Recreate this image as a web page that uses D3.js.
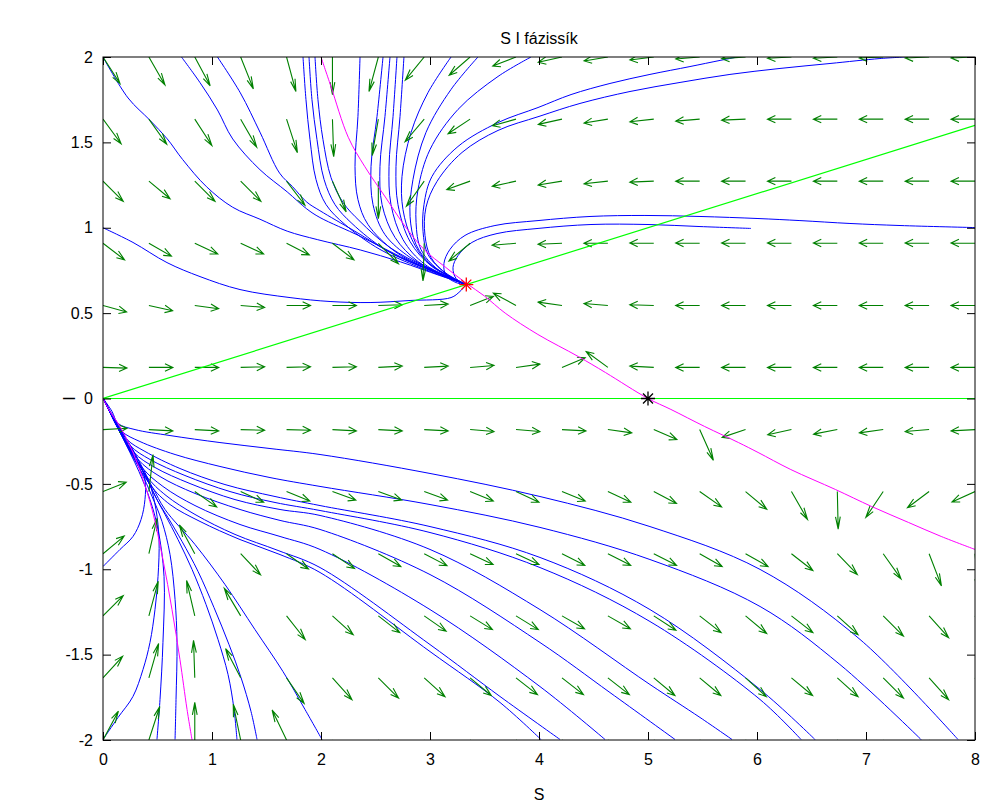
<!DOCTYPE html>
<html>
<head>
<meta charset="utf-8">
<script src="https://cdn.jsdelivr.net/npm/d3@7/dist/d3.min.js"></script>
<style>
  body { margin: 0; background: #fff; }
  text { font-family: "Liberation Sans", Arial, sans-serif; }
</style>
</head>
<body>
<div id="chart"></div>
<script>
// ---- data ----
const xTicks = [0, 1, 2, 3, 4, 5, 6, 7, 8];
const yTicks = [-2, -1.5, -1, -0.5, 0, 0.5, 1, 1.5, 2];

// quiver grid (S columns, I rows) and arrow directions in data space, degrees
const gridS = [0, 0.421, 0.842, 1.263, 1.684, 2.105, 2.526, 2.947, 3.368, 3.789,
               4.211, 4.632, 5.053, 5.474, 5.895, 6.316, 6.737, 7.158, 7.579, 8];
const gridI = [2, 1.636, 1.273, 0.909, 0.545, 0.182, -0.182, -0.545, -0.909, -1.273, -1.636, -2];
const arrowAngles = [
  [-45, -48, -50, -58, -67, -90, -113, -142, -151, -166, -172, -174, -175.5, -177, -177.5, -178, -178, -178.5, -178.5, -178.5],
  [-41, -42, -44.5, -48, -63, -87, -105, -143, -157, -170, -172, -174, -176, -177, -178.5, 180, 180, 180, 180, 180],
  [-32.5, -28, -32.5, -32.5, -40, -55, -90, -138, -167, -172, -174, -176, -178.5, 180, 180, 180, 180, 180, 180, 180],
  [-26, -20, -16.5, -16.5, -18, -26, -33, -93, -152, -177, -178.5, 180, 179.5, 179.5, 179.5, 179.5, 179.5, 179.5, 179.5, 179.5],
  [-10, -8, -5, -3, 0, 0, 1, 2, 14, 161, 175, 177, 179, 180, 180, 180, 180, 180, 180, 180],
  [-1, 0, 0, 1, 1, 1, 2, 2, 3, 5, 15, 155, 178, 180, 180, 180, 180, 180, 180, 180],
  [2, -2, -2, -1, -1, -2, -2, -2, -3, -3, -2, -5, -15.5, -55, -168, -172, -173, -175, -177, -178],
  [14.5, 80, -24, -16.5, -14.5, -13, -13, -13, -14.5, -16.5, -14.5, -16.5, -18.5, -24, -28, -48, -88, -136.5, -154.5, -164],
  [28, 70, 130, -34, -24, -23, -20, -18.5, -16.5, -16.5, -18, -18, -18, -20, -20, -26.5, -33.5, -42, -59, -82],
  [32.5, 67, 110, 133, -39, -30, -26.5, -24, -21.5, -21.5, -20, -20, -22.5, -26.5, -28, -26.5, -30, -32.5, -35.5, -39],
  [35, 66, 93, 129, -43, -35.5, -32.5, -30, -28, -26.5, -26.5, -26.5, -28, -28, -30, -28, -30, -32.5, -35.5, -37],
  [50, 63, 90, 108, 127, -45, -40, -35, -32, -30, -30, -30, -30, -30, -32, -32, -33, -35, -38, -40]
];
const arrowLength = 0.22;

// equilibria
const eqStable = [3.333, 0.667];
const eqSaddle = [5, 0];

// nullclines
const nullIZero = [[0, 0], [8, 0]];
const nullILine = [[0, 0], [8, 1.6]];
const nullSUpper = [[2.0, 2.0], [2.09, 1.83], [2.25, 1.53], [2.40, 1.36], [2.59, 1.18], [2.77, 1.01],
  [2.95, 0.87], [3.14, 0.77], [3.333, 0.675], [3.50, 0.60], [3.69, 0.50], [3.99, 0.375], [4.36, 0.246],
  [4.61, 0.152], [5.0, 0], [5.21, -0.064], [5.52, -0.164], [5.83, -0.258], [6.01, -0.316], [6.31, -0.416],
  [6.72, -0.533], [7.05, -0.632], [7.39, -0.726], [7.69, -0.808], [8.0, -0.884]];
const nullSLower = [[0, 0], [0.064, -0.076], [0.156, -0.164], [0.275, -0.316], [0.367, -0.474], [0.45, -0.65],
  [0.55, -0.943], [0.633, -1.236], [0.706, -1.529], [0.771, -1.821], [0.817, -2.0]];

// trajectories going into the upper equilibrium
const T1 = [[0,2],[0.23,1.76],[0.43,1.63],[0.59,1.52],[0.73,1.40],[0.95,1.24],[1.19,1.12],[1.44,1.05],[1.69,0.98],[1.97,0.93],[2.36,0.87],[2.73,0.80],[3.09,0.72],[3.333,0.667]];
const T2 = [[0.72,2],[0.89,1.85],[1.05,1.69],[1.19,1.52],[1.44,1.34],[1.69,1.21],[1.87,1.11],[1.99,1.06],[2.36,0.95],[2.73,0.83],[3.09,0.73],[3.333,0.667]];
const T3 = [[1.05,2],[1.26,1.79],[1.44,1.56],[1.62,1.32],[1.74,1.24],[1.87,1.15],[1.99,1.10],[2.31,0.98],[2.68,0.84],[3.05,0.74],[3.333,0.667]];
const T4 = [[1.835,2],[1.862,1.751],[1.899,1.517],[1.954,1.283],[2.046,1.136],[2.22,1.019],[2.541,0.873],[2.908,0.767],[3.333,0.667]];
const T5 = [[1.89,2],[1.917,1.751],[1.963,1.517],[2.028,1.283],[2.128,1.136],[2.284,1.025],[2.587,0.873],[2.936,0.767],[3.333,0.667]];
const T6 = [[1.945,2],[1.972,1.751],[2.018,1.517],[2.092,1.294],[2.202,1.148],[2.358,1.037],[2.633,0.884],[2.972,0.767],[3.333,0.667]];
const T7 = [[2.358,2],[2.339,1.652],[2.312,1.359],[2.339,1.165],[2.431,1.019],[2.679,0.861],[2.954,0.767],[3.333,0.667]];
const T8 = [[2.569,2],[2.514,1.652],[2.459,1.359],[2.477,1.136],[2.587,0.96],[2.817,0.826],[3.092,0.732],[3.333,0.667]];
const T9 = [[2.633,2],[2.587,1.652],[2.541,1.359],[2.56,1.136],[2.679,0.943],[2.89,0.802],[3.138,0.72],[3.333,0.667]];
const T10 = [[2.697,2],[2.661,1.652],[2.624,1.359],[2.642,1.136],[2.752,0.931],[2.954,0.785],[3.333,0.667]];
const T11 = [[2.761,2],[2.725,1.652],[2.688,1.359],[2.706,1.136],[2.817,0.919],[3.018,0.773],[3.333,0.667]];
const T12 = [[3.193,2],[2.982,1.792],[2.826,1.558],[2.743,1.30],[2.752,1.107],[2.835,0.931],[2.982,0.796],[3.333,0.667]];
const T13 = [[3.44,2],[3.193,1.81],[2.963,1.558],[2.844,1.283],[2.817,1.066],[2.872,0.902],[3.018,0.779],[3.333,0.667]];
const T14 = [[3.927,2],[3.624,1.886],[3.257,1.693],[3.0,1.458],[2.89,1.224],[2.872,1.031],[2.917,0.873],[3.073,0.755],[3.333,0.667]];
const T15 = [[5.844,2.003],[5.661,1.98],[5.385,1.944],[5.018,1.898],[4.651,1.845],[4.294,1.78],[3.991,1.704],[3.624,1.616],[3.257,1.476],[3.018,1.30],[2.945,1.136],[2.936,0.978],[2.982,0.843],[3.138,0.738],[3.333,0.667]];
const T16 = [[7.358,2.0],[7.128,1.991],[6.67,1.962],[6.211,1.933],[5.752,1.898],[5.294,1.851],[4.835,1.798],[4.376,1.728],[4.0,1.652],[3.624,1.57],[3.294,1.441],[3.064,1.271],[2.963,1.119],[2.954,0.955],[3.009,0.826],[3.156,0.726],[3.333,0.667]];
const T17 = [[8,1.001],[7.312,1.013],[6.853,1.025],[6.394,1.042],[6.009,1.054],[5.477,1.066],[4.972,1.072],[4.468,1.066],[3.991,1.042],[3.596,1.013],[3.321,0.955],[3.183,0.873],[3.128,0.791],[3.147,0.72],[3.239,0.679],[3.333,0.667]];
const T18 = [[5.945,0.996],[5.477,1.007],[5.0,1.019],[4.477,1.019],[3.991,0.996],[3.615,0.966],[3.385,0.914],[3.257,0.837],[3.211,0.767],[3.239,0.703],[3.333,0.667]];
const T19 = [[0,1.0],[0.275,0.914],[0.587,0.796],[0.89,0.714],[1.257,0.638],[1.716,0.591],[2.083,0.568],[2.45,0.562],[2.817,0.574],[3.193,0.591],[3.275,0.627],[3.333,0.667]];

// trajectories leaving the origin towards the lower right
const F1 = [[0.009,-0.006],[0.083,-0.076],[0.138,-0.146],[0.294,-0.182],[0.615,-0.217],[1.073,-0.258],[1.532,-0.293],[1.991,-0.328],[3.0,-0.439],[4.009,-0.574],[5.018,-0.75],[6.028,-1.001],[6.945,-1.411],[7.844,-1.997]];
const F2 = [[0.009,-0.006],[0.083,-0.1],[0.174,-0.193],[0.339,-0.252],[0.661,-0.328],[1.073,-0.398],[1.532,-0.463],[1.991,-0.515],[3.0,-0.621],[4.009,-0.755],[5.018,-0.943],[6.028,-1.218],[6.761,-1.558],[7.505,-1.997]];
const F3 = [[0.009,-0.006],[0.092,-0.111],[0.22,-0.24],[0.385,-0.31],[0.706,-0.41],[1.119,-0.504],[1.578,-0.574],[1.991,-0.627],[3.0,-0.75],[4.009,-0.931],[5.018,-1.236],[6.028,-1.704],[6.532,-1.997]];
const F4 = [[0.009,-0.006],[0.101,-0.123],[0.248,-0.275],[0.431,-0.357],[0.752,-0.451],[1.165,-0.545],[1.578,-0.609],[1.991,-0.656],[3.0,-0.785],[4.009,-0.99],[5.018,-1.306],[6.028,-1.763],[6.404,-1.997]];
const F5 = [[0.009,-0.006],[0.11,-0.135],[0.284,-0.316],[0.477,-0.404],[0.798,-0.498],[1.211,-0.592],[1.624,-0.65],[1.991,-0.685],[3.0,-0.884],[4.009,-1.236],[5.018,-1.675],[5.477,-1.868],[5.771,-1.997]];
const F6 = [[0.009,-0.006],[0.119,-0.146],[0.321,-0.357],[0.523,-0.457],[0.844,-0.556],[1.257,-0.65],[1.624,-0.714],[1.991,-0.767],[3.0,-1.031],[4.009,-1.429],[4.651,-1.722],[5.248,-1.997]];
const F7 = [[0.009,-0.006],[0.119,-0.152],[0.358,-0.404],[0.55,-0.515],[0.844,-0.627],[1.257,-0.738],[1.624,-0.808],[1.991,-0.884],[3.0,-1.236],[4.009,-1.687],[4.606,-1.997]];
const F8 = [[0.009,-0.006],[0.128,-0.158],[0.394,-0.451],[0.578,-0.568],[0.844,-0.679],[1.211,-0.796],[1.606,-0.89],[1.991,-0.99],[3.0,-1.441],[3.642,-1.745],[4.193,-1.997]];
const F9 = [[0.009,-0.006],[0.128,-0.164],[0.431,-0.504],[0.615,-0.621],[0.89,-0.72],[1.257,-0.826],[1.624,-0.914],[1.991,-1.019],[3.0,-1.482],[3.642,-1.78],[4.018,-1.997]];
const F10 = [[0.009,-0.006],[0.138,-0.17],[0.45,-0.515],[0.569,-0.65],[0.844,-0.855],[1.119,-1.089],[1.394,-1.353],[1.651,-1.599],[1.853,-1.821],[2.009,-1.997]];
// trajectories near the lower magenta branch
const B1 = [[0.009,-0.006],[0.138,-0.176],[0.358,-0.416],[0.495,-0.592],[0.569,-0.679],[0.688,-0.826],[0.817,-1.001],[0.945,-1.206],[1.055,-1.411],[1.147,-1.616],[1.202,-1.821],[1.229,-1.997]];
const B2 = [[0.009,-0.006],[0.138,-0.176],[0.367,-0.428],[0.505,-0.603],[0.596,-0.697],[0.725,-0.837],[0.872,-1.013],[1.018,-1.224],[1.156,-1.441],[1.266,-1.634],[1.358,-1.833],[1.413,-1.997]];
const B3 = [[0.009,-0.012],[0.156,-0.193],[0.339,-0.416],[0.45,-0.574],[0.541,-0.72],[0.615,-0.914],[0.661,-1.177],[0.679,-1.429],[0.67,-1.763],[0.661,-1.997]];
const B4 = [[0.009,-0.012],[0.156,-0.199],[0.33,-0.428],[0.431,-0.592],[0.505,-0.767],[0.56,-1.042],[0.55,-1.429],[0.523,-1.763],[0.495,-1.997]];
const B5 = [[0,-1.997],[0.138,-1.868],[0.275,-1.745],[0.367,-1.587],[0.431,-1.429],[0.477,-1.236],[0.505,-1.042],[0.514,-0.826],[0.486,-0.65],[0.422,-0.486],[0.312,-0.346],[0.165,-0.182],[0.009,-0.012]];
const B6 = [[0,-0.984],[0.156,-0.884],[0.275,-0.808],[0.349,-0.709],[0.385,-0.592],[0.385,-0.474],[0.33,-0.369],[0.229,-0.252],[0.101,-0.123],[0.009,-0.012]];

const trajectories = [T1, T2, T3, T4, T5, T6, T7, T8, T9, T10, T11, T12, T13, T14, T15, T16, T17, T18, T19,
  F1, F2, F3, F4, F5, F6, F7, F8, F9, F10, B1, B2, B3, B4, B5, B6];

// ---- drawing ----
const W = 982, H = 805;
const plot = { left: 103, right: 975, top: 57, bottom: 740 };

const svg = d3.select("#chart").append("svg")
  .attr("width", W).attr("height", H)
  .style("background", "#fff");

const x = d3.scaleLinear().domain([0, 8]).range([plot.left, plot.right]);
const y = d3.scaleLinear().domain([-2, 2]).range([plot.bottom, plot.top]);

svg.append("clipPath").attr("id", "plotClip")
  .append("rect")
  .attr("x", x(0)).attr("y", y(2))
  .attr("width", x(8) - x(0)).attr("height", y(-2) - y(2));

const inner = svg.append("g").attr("clip-path", "url(#plotClip)");

const line = d3.line()
  .x(d => x(d[0]))
  .y(d => y(d[1]))
  .curve(d3.curveCatmullRom.alpha(0.5));

// trajectories
inner.append("g")
  .selectAll("path")
  .data(trajectories)
  .join("path")
  .attr("d", line)
  .attr("fill", "none")
  .attr("stroke", "#0000ff")
  .attr("stroke-width", 1);

// quiver arrows (matlab style heads, built in data space)
const alpha = 0.33, beta = 0.3;
const arrows = [];
gridI.forEach((iv, r) => {
  gridS.forEach((sv, c) => {
    const a = arrowAngles[r][c] * Math.PI / 180;
    const u = arrowLength * Math.cos(a), v = arrowLength * Math.sin(a);
    arrows.push({ s: sv, i: iv, u, v });
  });
});

inner.append("g")
  .selectAll("path")
  .data(arrows)
  .join("path")
  .attr("d", d => {
    const tx = d.s + d.u, ty = d.i + d.v;
    const h1x = tx - alpha * (d.u + beta * d.v), h1y = ty - alpha * (d.v - beta * d.u);
    const h2x = tx - alpha * (d.u - beta * d.v), h2y = ty - alpha * (d.v + beta * d.u);
    return `M${x(d.s)},${y(d.i)}L${x(tx)},${y(ty)}` +
      `M${x(h1x)},${y(h1y)}L${x(tx)},${y(ty)}L${x(h2x)},${y(h2y)}`;
  })
  .attr("fill", "none")
  .attr("stroke", "#008000")
  .attr("stroke-width", 1.1);

// nullclines
const straight = d3.line().x(d => x(d[0])).y(d => y(d[1]));
[nullIZero, nullILine].forEach(pts => {
  inner.append("path").attr("d", straight(pts))
    .attr("fill", "none").attr("stroke", "#00ff00").attr("stroke-width", 1.2);
});
[nullSUpper, nullSLower].forEach(pts => {
  inner.append("path").attr("d", line(pts))
    .attr("fill", "none").attr("stroke", "#ff00ff").attr("stroke-width", 1);
});

// equilibrium stars
function star(g, p, color) {
  const cx = x(p[0]), cy = y(p[1]), r = 7, q = 5;
  g.append("path")
    .attr("d", `M${cx - r},${cy}L${cx + r},${cy}M${cx},${cy - r}L${cx},${cy + r}` +
      `M${cx - q},${cy - q}L${cx + q},${cy + q}M${cx - q},${cy + q}L${cx + q},${cy - q}`)
    .attr("stroke", color).attr("stroke-width", 1.3).attr("fill", "none");
}
star(inner, eqStable, "#ff0000");
star(inner, eqSaddle, "#000000");

// axes box with inward ticks on all sides
const fmt = d => String(d);
const fontSize = 16;

svg.append("g").attr("transform", `translate(0,${plot.bottom})`)
  .call(d3.axisBottom(x).tickValues(xTicks).tickSize(-8).tickSizeOuter(0).tickPadding(14).tickFormat(fmt));
svg.append("g").attr("transform", `translate(0,${plot.top})`)
  .call(d3.axisTop(x).tickValues(xTicks).tickSize(-8).tickSizeOuter(0).tickFormat(""));
svg.append("g").attr("transform", `translate(${plot.left},0)`)
  .call(d3.axisLeft(y).tickValues(yTicks).tickSize(-8).tickSizeOuter(0).tickPadding(10).tickFormat(fmt));
svg.append("g").attr("transform", `translate(${plot.right},0)`)
  .call(d3.axisRight(y).tickValues(yTicks).tickSize(-8).tickSizeOuter(0).tickFormat(""));

svg.selectAll(".domain").remove();
svg.selectAll(".tick line").attr("stroke", "#000");
svg.selectAll(".tick text")
  .attr("fill", "#000")
  .style("font-size", fontSize + "px")
  .style("font-family", "'Liberation Sans', Arial, sans-serif");

svg.append("rect")
  .attr("x", x(0)).attr("y", y(2))
  .attr("width", x(8) - x(0)).attr("height", y(-2) - y(2))
  .attr("fill", "none").attr("stroke", "#000").attr("stroke-width", 1);

// title and labels
svg.append("text")
  .attr("x", (plot.left + plot.right) / 2).attr("y", 44)
  .attr("text-anchor", "middle").style("font-size", fontSize + "px")
  .text("S I fázissík");
svg.append("text")
  .attr("x", (plot.left + plot.right) / 2).attr("y", 800)
  .attr("text-anchor", "middle").style("font-size", fontSize + "px")
  .text("S");
svg.append("text")
  .attr("transform", `translate(75,${(plot.top + plot.bottom) / 2}) rotate(-90)`)
  .attr("text-anchor", "middle").style("font-size", fontSize + "px")
  .text("I");
</script>
</body>
</html>
